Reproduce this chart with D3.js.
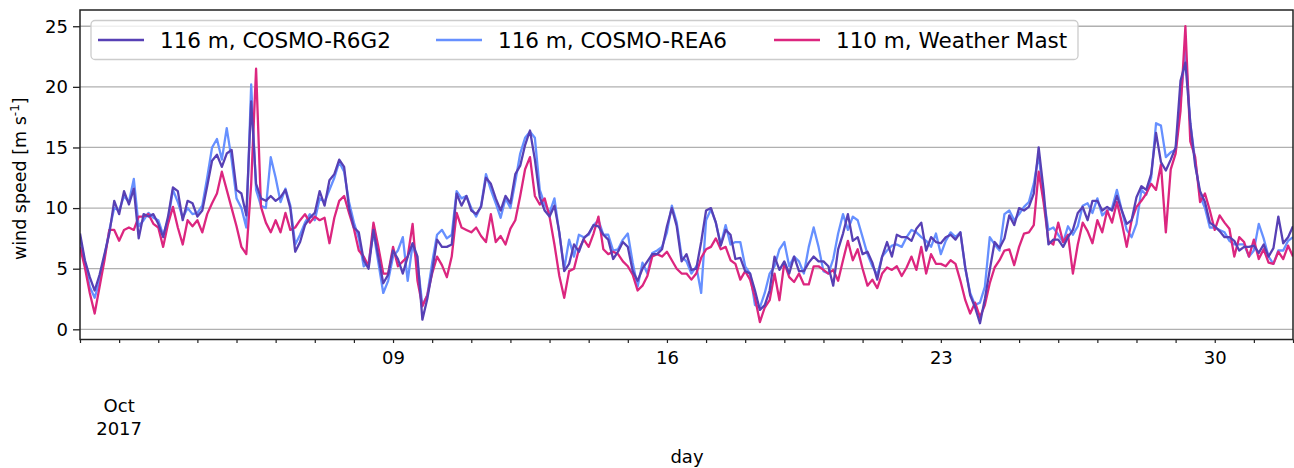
<!DOCTYPE html>
<html>
<head>
<meta charset="utf-8">
<script src="https://cdn.jsdelivr.net/npm/d3@7/dist/d3.min.js"></script>
<style>
  html, body { margin: 0; padding: 0; background: #ffffff; }
  svg { display: block; }
  text { font-family: "DejaVu Sans", sans-serif; fill: #000; }
</style>
</head>
<body>
<svg id="chart" width="1294" height="468"></svg>
<script>
// One value every 3 hours from 1 Oct 2017 00:00 UTC to 1 Nov 2017 00:00 UTC
const stepHours = 3;
const startDate = new Date(Date.UTC(2017, 9, 1));
const endDate = new Date(Date.UTC(2017, 10, 1));

// 116 m, COSMO-R6G2
const r6g2 = [
  7.9, 5.7, 4.3, 3.2, 4.5, 6.2, 7.9, 10.6,
  9.5, 11.4, 10.3, 11.6, 7.5, 9.5, 9.3, 9.5,
  8.7, 7.6, 9.3, 11.7, 11.4, 9.0, 10.6, 10.4,
  9.3, 9.8, 11.8, 13.9, 14.4, 13.4, 14.5, 14.8,
  11.5, 11.2, 9.4, 18.8, 12.0, 10.8, 10.6, 11.0,
  10.6, 10.9, 11.5, 10.0, 6.4, 7.2, 8.6, 9.2,
  9.6, 11.4, 10.2, 12.3, 12.8, 14.0, 13.4, 10.0,
  8.4, 8.0, 5.7, 5.0, 8.2, 6.0, 3.8, 4.5,
  6.5, 5.8, 4.6, 6.0, 7.1, 6.0, 0.8, 2.5,
  4.8, 7.4, 6.8, 6.8, 7.0, 11.2, 10.2, 11.0,
  9.8, 9.5, 10.1, 12.5, 12.0, 10.8, 9.8, 11.0,
  10.4, 12.8, 13.5, 15.2, 16.4, 14.0, 10.9, 9.8,
  9.3, 10.2, 8.0, 4.8, 5.4, 7.0, 6.4, 7.5,
  7.9, 8.6, 8.5, 7.8, 7.4, 5.8, 6.4, 7.2,
  6.8, 4.8, 4.0, 5.0, 5.6, 6.2, 6.2, 6.6,
  8.5, 10.0, 8.5, 5.6, 6.2, 4.9, 5.0, 7.2,
  9.8, 10.0, 8.8, 6.9, 8.2, 7.8, 5.8, 5.9,
  4.8, 4.6, 3.2, 1.6, 2.0, 3.2, 6.0, 4.9,
  5.6, 4.6, 6.0, 4.8, 4.8, 5.5, 6.0, 5.6,
  5.6, 5.2, 3.6, 6.6, 7.9, 9.5, 7.3, 7.6,
  6.2, 6.4, 5.5, 4.1, 6.0, 7.2, 6.0, 7.8,
  7.6, 7.6, 7.3, 8.3, 8.8, 6.5, 7.6, 7.2,
  7.1, 7.6, 7.8, 7.4, 8.0, 5.1, 2.8, 1.8,
  0.5, 2.5, 4.9, 7.2, 6.7, 7.5, 9.4, 8.6,
  10.0, 9.8, 10.1, 11.2, 15.0, 11.5, 7.0, 7.4,
  7.4, 6.8, 7.6, 8.2, 9.6, 10.1, 9.0, 10.6,
  10.6, 9.8, 10.1, 9.8, 11.0, 9.8, 8.7, 9.0,
  10.9, 11.8, 11.5, 12.8, 16.2, 13.8, 13.1, 14.0,
  15.0, 20.5, 22.0, 17.0, 13.5, 11.4, 10.5, 8.8,
  8.5, 8.1, 7.6, 7.6, 7.3, 6.5, 6.8, 6.8,
  6.9, 6.3, 7.0, 6.0, 6.7, 9.3, 7.1, 7.6,
  8.5
];

// 116 m, COSMO-REA6
const rea6 = [
  7.6, 5.5, 3.5, 2.6, 4.0, 6.0, 8.2, 10.0,
  9.8, 11.0, 10.5, 12.4, 8.5, 9.0, 9.6, 9.2,
  9.0, 7.8, 9.0, 11.5, 10.5, 9.2, 10.0, 9.5,
  9.6, 10.2, 12.5, 15.0, 15.7, 14.0, 16.6, 14.0,
  10.8, 10.0, 8.4, 20.2, 11.5, 10.2, 10.0, 14.2,
  12.5, 10.5, 11.6, 10.2, 7.0, 7.8, 8.8, 9.5,
  9.0, 10.8, 10.5, 11.5, 12.5, 13.8, 13.0, 10.5,
  8.8, 7.5, 5.2, 5.5, 8.0, 5.5, 3.0, 4.0,
  6.0, 6.5, 7.6, 4.0, 7.0, 5.5, 2.0, 2.8,
  5.5, 7.8, 8.2, 7.5, 7.8, 11.4, 10.8, 11.0,
  10.0, 9.3, 10.2, 12.8, 11.5, 10.4, 9.2, 10.8,
  10.0, 12.2, 14.5, 15.8, 16.3, 15.8, 11.5, 10.3,
  9.6, 10.8, 7.9, 5.0, 7.4, 6.0, 7.8, 7.6,
  7.8, 8.6, 9.0, 7.8, 7.8, 6.5, 6.6, 7.4,
  7.9, 5.5, 3.5, 5.5, 4.6, 6.3, 6.5, 6.8,
  8.0, 10.2, 8.8, 6.0, 5.6, 4.6, 5.2, 3.0,
  9.0, 9.9, 8.8, 7.0, 8.6, 7.0, 7.2, 7.2,
  5.2, 4.6, 2.0, 1.8, 3.0, 4.6, 5.2, 6.6,
  7.2, 5.2, 6.0, 5.6, 4.6, 6.8, 8.4, 6.8,
  4.8, 4.6, 5.8, 7.9, 9.5, 8.2, 9.3, 9.0,
  7.6, 6.2, 5.2, 4.5, 6.0, 6.5, 6.9, 7.0,
  6.8, 7.6, 8.2, 8.0, 7.6, 7.3, 6.8, 7.9,
  6.2, 7.3, 8.0, 7.6, 8.0, 5.0, 3.0, 2.0,
  2.2, 3.5, 7.6, 7.0, 6.5, 9.5, 9.8, 9.0,
  9.5, 10.1, 10.5, 12.0, 14.4, 10.8, 8.2, 8.4,
  7.8, 7.2, 8.5, 7.8, 8.5, 10.2, 10.4, 9.6,
  10.8, 9.4, 9.8, 10.0, 11.5, 9.8, 8.2, 7.6,
  8.7, 11.5, 11.1, 12.5, 17.0, 16.8, 14.2, 14.6,
  14.8, 18.8, 23.0, 17.0, 13.9, 11.0, 10.0, 8.4,
  8.4, 8.2, 8.0, 7.3, 7.0, 7.0, 7.0, 6.0,
  6.5, 8.7, 7.5, 6.0, 5.4, 6.5, 6.5, 7.3,
  7.6
];

// 110 m, Weather Mast
const mast = [
  6.8, 5.1, 3.0, 1.3, 3.5, 5.7, 8.2, 8.2,
  7.3, 8.2, 8.4, 8.2, 9.3, 9.3, 9.5, 8.7,
  8.4, 6.8, 8.7, 10.1, 8.4, 7.0, 9.0, 8.5,
  9.0, 8.0, 9.5, 10.4, 11.2, 13.0, 11.5, 10.0,
  8.5, 6.8, 6.2, 12.0, 21.5, 10.1, 8.8, 8.0,
  9.0, 8.0, 9.6, 8.2, 8.4, 9.0, 9.5, 8.8,
  9.3, 9.0, 9.2, 7.1, 9.2, 10.6, 11.0, 9.6,
  8.3, 6.5, 6.0, 5.2, 8.8, 6.8, 4.6, 4.6,
  6.8, 5.2, 5.6, 6.0, 8.7, 4.0, 1.9, 2.8,
  4.6, 6.0, 5.3, 4.3, 6.0, 9.6, 8.4, 8.2,
  8.0, 8.4, 7.7, 7.2, 9.5, 7.2, 7.7, 7.0,
  8.3, 9.0, 11.0, 13.2, 14.2, 11.0, 10.3, 10.8,
  9.3, 7.0, 4.4, 2.6, 4.8, 5.0, 6.6, 7.4,
  6.8, 7.9, 9.3, 6.6, 6.2, 6.4, 6.2, 5.6,
  5.2, 4.5, 3.2, 3.6, 4.4, 6.0, 6.2, 6.0,
  6.4, 5.7, 5.0, 4.6, 4.6, 4.1, 4.6, 5.9,
  6.6, 6.8, 7.5, 6.6, 6.8, 5.7, 5.4, 4.1,
  4.8, 4.1, 2.6, 0.6, 1.8, 2.4, 4.6, 2.4,
  5.5, 4.3, 3.9, 4.6, 3.7, 3.7, 5.2, 5.2,
  4.9, 4.6, 4.9, 4.0, 5.7, 7.3, 5.7, 6.6,
  5.0, 3.6, 4.1, 3.4, 4.6, 5.1, 4.9, 5.2,
  4.4, 5.1, 6.0, 4.9, 6.8, 4.6, 6.2, 5.4,
  5.4, 5.2, 5.7, 5.4, 4.0, 2.4, 1.3, 2.2,
  1.0, 2.0, 3.8, 5.1, 5.7, 6.5, 6.6, 5.3,
  6.8, 7.9, 8.0, 8.6, 13.0, 10.5, 7.3, 7.0,
  8.8, 7.2, 7.8, 4.6, 7.0, 8.8, 8.1, 7.1,
  9.0, 8.0, 9.8, 8.8, 10.5, 8.8, 6.8, 9.0,
  10.1, 10.6, 11.2, 12.0, 11.5, 13.6, 8.0, 13.2,
  14.5, 18.0, 25.0, 15.5, 14.2, 10.5, 11.2, 9.8,
  8.2, 9.4, 8.8, 8.3, 6.0, 7.6, 7.2, 6.0,
  7.4, 5.8, 6.6, 5.5, 5.4, 6.4, 5.8, 6.9,
  6.0
];

const seriesNames = ["116 m, COSMO-R6G2", "116 m, COSMO-REA6", "110 m, Weather Mast"];
const seriesColors = ["#5740b5", "#6690ff", "#dc267f"];
const yTicks = [0, 5, 10, 15, 20, 25];
const yLimits = [-0.84, 26.34];
const xTickDays = [9, 16, 23, 30];

const svg = d3.select("#chart");
const margin = { left: 80, right: 1, top: 10, bottom: 128.5 };
const W = 1294, H = 468;
const x0 = margin.left, x1 = W - margin.right;
const y0 = margin.top, y1 = H - margin.bottom;

const x = d3.scaleUtc().domain([startDate, endDate]).range([x0, x1]);
const y = d3.scaleLinear().domain(yLimits).range([y1, y0]);

const timeAt = i => new Date(startDate.getTime() + i * stepHours * 3600 * 1000);

// horizontal grid
svg.append("g")
  .selectAll("line")
  .data(yTicks)
  .join("line")
  .attr("x1", x0).attr("x2", x1)
  .attr("y1", d => y(d)).attr("y2", d => y(d))
  .attr("stroke", "#b0b0b0").attr("stroke-width", 1.3);

// series lines, clipped to the axes box
svg.append("clipPath").attr("id", "plotclip")
  .append("rect").attr("x", x0).attr("y", y0).attr("width", x1 - x0).attr("height", y1 - y0);

const line = d3.line().x((d, i) => x(timeAt(i))).y(d => y(d));
const seriesData = [r6g2, rea6, mast];
const drawOrder = [1, 2, 0];
const plot = svg.append("g").attr("clip-path", "url(#plotclip)");
drawOrder.forEach(k => {
  plot.append("path")
    .datum(seriesData[k])
    .attr("d", line)
    .attr("fill", "none")
    .attr("stroke", seriesColors[k])
    .attr("stroke-width", 2.3)
    .attr("stroke-linejoin", "round");
});

// y axis
const yAxis = d3.axisLeft(y).tickValues(yTicks).tickSize(7).tickPadding(5).tickFormat(d3.format("d"));
svg.append("g").attr("transform", `translate(${x0},0)`).call(yAxis)
  .call(g => g.select(".domain").remove())
  .call(g => g.selectAll("line").attr("stroke", "#222").attr("stroke-width", 1.3))
  .call(g => g.selectAll("text").attr("font-size", 18).attr("font-family", "DejaVu Sans").attr("fill", "#000"));

// x axis: daily minor ticks, weekly labels
const xAxis = d3.axisBottom(x).ticks(d3.utcDay.every(1)).tickSize(3.5).tickPadding(8)
  .tickFormat(d => xTickDays.includes(d.getUTCDate()) && d.getUTCMonth() === 9 ? d3.utcFormat("%d")(d) : "");
svg.append("g").attr("transform", `translate(0,${y1})`).call(xAxis)
  .call(g => g.select(".domain").remove())
  .call(g => g.selectAll("line").attr("stroke", "#222").attr("stroke-width", 1.2))
  .call(g => g.selectAll("text").attr("font-size", 18).attr("font-family", "DejaVu Sans").attr("fill", "#000"));

// month / year label under the axis
const offsetDate = new Date(Date.UTC(2017, 9, 2));
svg.append("text").attr("x", x(offsetDate)).attr("y", 412).attr("text-anchor", "middle")
  .attr("font-size", 18).text("Oct");
svg.append("text").attr("x", x(offsetDate)).attr("y", 435).attr("text-anchor", "middle")
  .attr("font-size", 18).text("2017");

// frame
svg.append("rect").attr("x", x0).attr("y", y0).attr("width", x1 - x0).attr("height", y1 - y0)
  .attr("fill", "none").attr("stroke", "#222").attr("stroke-width", 1.5);

// axis titles
svg.append("text").attr("x", 687).attr("y", 463).attr("text-anchor", "middle")
  .attr("font-size", 18).text("day");
const yl = svg.append("text")
  .attr("transform", `translate(26,${(y0 + y1) / 2 + 4}) rotate(-90)`)
  .attr("text-anchor", "middle").attr("font-size", 17.5);
yl.append("tspan").text("wind speed [m s");
yl.append("tspan").attr("baseline-shift", "super").attr("font-size", 12).text("-1");
yl.append("tspan").text("]");

// legend
const legend = svg.append("g");
legend.append("rect").attr("x", 91).attr("y", 20.5).attr("width", 987).attr("height", 39)
  .attr("rx", 4).attr("fill", "#ffffff").attr("fill-opacity", 0.8)
  .attr("stroke", "#cccccc").attr("stroke-width", 1.3);
const legendX = [98, 436, 774];
seriesNames.forEach((name, k) => {
  legend.append("line").attr("x1", legendX[k]).attr("x2", legendX[k] + 46)
    .attr("y1", 40).attr("y2", 40).attr("stroke", seriesColors[k]).attr("stroke-width", 2.5);
  legend.append("text").attr("x", legendX[k] + 62).attr("y", 47.5)
    .attr("font-size", 21.5).text(name);
});
</script>
</body>
</html>
